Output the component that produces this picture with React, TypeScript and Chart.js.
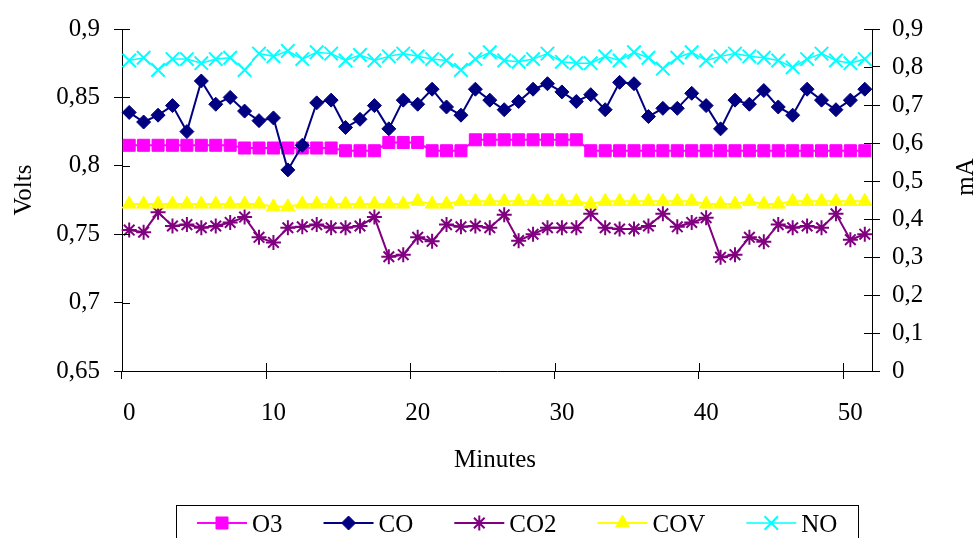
import React, { useEffect, useRef } from 'react';
import { Chart, registerables } from 'chart.js';
import { drawPoint } from 'chart.js/helpers';

Chart.register(...registerables);

const minutes = [
  0, 1, 2, 3, 4, 5, 6, 7, 8, 9, 10, 11, 12, 13, 14, 15, 16, 17, 18, 19, 20, 21, 22, 23, 24, 25,
  26, 27, 28, 29, 30, 31, 32, 33, 34, 35, 36, 37, 38, 39, 40, 41, 42, 43, 44, 45, 46, 47, 48, 49, 50, 51,
];

const o3 = [
  0.815, 0.815, 0.815, 0.815, 0.815, 0.815, 0.815, 0.815,
  0.813, 0.813, 0.813, 0.813, 0.813, 0.813, 0.813,
  0.811, 0.811, 0.811,
  0.817, 0.817, 0.817,
  0.811, 0.811, 0.811,
  0.819, 0.819, 0.819, 0.819, 0.819, 0.819, 0.819, 0.819,
  0.811, 0.811, 0.811, 0.811, 0.811, 0.811, 0.811, 0.811, 0.811, 0.811,
  0.811, 0.811, 0.811, 0.811, 0.811, 0.811, 0.811, 0.811, 0.811, 0.811,
];

const co = [
  0.839, 0.832, 0.837, 0.844, 0.825, 0.862, 0.845, 0.85, 0.84, 0.833,
  0.835, 0.797, 0.815, 0.846, 0.848, 0.828, 0.834, 0.844, 0.827, 0.848,
  0.845, 0.856, 0.843, 0.837, 0.856, 0.848, 0.841, 0.847, 0.856, 0.86,
  0.854, 0.847, 0.852, 0.841, 0.861, 0.86, 0.836, 0.842, 0.842, 0.853,
  0.844, 0.827, 0.848, 0.845, 0.855, 0.843, 0.837, 0.856, 0.848, 0.841,
  0.848, 0.856,
];

const co2 = [
  0.753, 0.7515, 0.766, 0.756, 0.757, 0.7547, 0.756, 0.7586, 0.7625, 0.7477,
  0.744, 0.7547, 0.7554, 0.757, 0.7547, 0.7547, 0.756, 0.7625, 0.7335, 0.735,
  0.7477, 0.7448, 0.757, 0.7554, 0.756, 0.7547, 0.7642, 0.7453, 0.75, 0.7547,
  0.7547, 0.7547, 0.7649, 0.7547, 0.7538, 0.7538, 0.756, 0.7649, 0.7554, 0.7586,
  0.7621, 0.7331, 0.735, 0.7477, 0.7444, 0.757, 0.7547, 0.756, 0.7547, 0.7649,
  0.746, 0.75,
];

const cov = [
  0.772, 0.772, 0.772, 0.772, 0.772, 0.772, 0.772, 0.772, 0.772, 0.772,
  0.770, 0.770,
  0.772, 0.772, 0.772, 0.772, 0.772, 0.772, 0.772, 0.772,
  0.774, 0.772, 0.772,
  0.774, 0.774, 0.774, 0.774, 0.774, 0.774, 0.774, 0.774, 0.774,
  0.772,
  0.774, 0.774, 0.774, 0.774, 0.774, 0.774, 0.774,
  0.772, 0.772, 0.772, 0.774, 0.772, 0.772,
  0.774, 0.774, 0.774, 0.774, 0.774, 0.774,
];

const no = [
  0.877, 0.879, 0.87, 0.878, 0.878, 0.875, 0.878, 0.879, 0.87, 0.882,
  0.88, 0.884, 0.878, 0.883, 0.882, 0.877, 0.881, 0.877, 0.88, 0.882,
  0.88, 0.878, 0.877, 0.87, 0.878, 0.883, 0.877, 0.876, 0.878, 0.882,
  0.876, 0.875, 0.875, 0.88, 0.877, 0.883, 0.879, 0.871, 0.879, 0.883,
  0.877, 0.88, 0.882, 0.88, 0.879, 0.877, 0.872, 0.878, 0.882, 0.877,
  0.875, 0.878,
];

const seriesNames = ['O3', 'CO', 'CO2', 'COV', 'NO'];
const xTitle = 'Minutes';
const yLeftTitle = 'Volts';
const yRightTitle = 'mA';

const FONT_FAMILY = '"Liberation Serif", "Times New Roman", serif';
const FONT_SIZE = 25;

const fmt = (v: number | string) =>
  String(Math.round(Number(v) * 100) / 100).replace('.', ',');

const overlayPlugin = {
  id: 'overlay',
  afterDraw(chart: any) {
    const { ctx, chartArea: a, scales } = chart;
    const yl = scales.y;
    const yr = scales.y1;
    const xs = scales.x;
    ctx.save();
    // inner half of crossing tick marks
    ctx.strokeStyle = '#000';
    ctx.lineWidth = 1;
    ctx.beginPath();
    yl.ticks.forEach((_t: any, i: number) => {
      const p = Math.round(yl.getPixelForTick(i)) + 0.5;
      ctx.moveTo(a.left, p);
      ctx.lineTo(a.left + 8, p);
    });
    yr.ticks.forEach((_t: any, i: number) => {
      const p = Math.round(yr.getPixelForTick(i)) + 0.5;
      ctx.moveTo(a.right - 8, p);
      ctx.lineTo(a.right, p);
    });
    const half = (xs.getPixelForValue(1) - xs.getPixelForValue(0)) / 2;
    const labels = chart.data.labels as number[];
    labels.forEach((lab, i) => {
      if (lab % 10 === 0) {
        const p = Math.round(xs.getPixelForValue(i) - half) + 0.5;
        ctx.moveTo(p, a.bottom - 8);
        ctx.lineTo(p, a.bottom);
      }
    });
    ctx.stroke();

    // axis titles
    ctx.fillStyle = '#000';
    ctx.font = `${FONT_SIZE}px ${FONT_FAMILY}`;
    ctx.textAlign = 'center';
    ctx.textBaseline = 'alphabetic';
    ctx.fillText(xTitle, 495, 467);

    ctx.save();
    ctx.translate(31, 190);
    ctx.rotate(-Math.PI / 2);
    ctx.fillText(yLeftTitle, 0, 0);
    ctx.restore();

    ctx.save();
    ctx.translate(973, 177);
    ctx.rotate(-Math.PI / 2);
    ctx.fillText(yRightTitle, 0, 0);
    ctx.restore();

    // legend
    ctx.strokeStyle = '#000';
    ctx.lineWidth = 1;
    ctx.strokeRect(176.5, 505.5, 682, 40);
    let x = 197;
    const ly = 523;
    ctx.textAlign = 'left';
    chart.data.datasets.forEach((ds: any) => {
      ctx.strokeStyle = ds.borderColor;
      ctx.lineWidth = ds.borderWidth;
      ctx.beginPath();
      ctx.moveTo(x, ly);
      ctx.lineTo(x + 50, ly);
      ctx.stroke();
      ctx.fillStyle = ds.pointBackgroundColor || ds.backgroundColor;
      ctx.strokeStyle = ds.borderColor;
      ctx.lineWidth = ds.pointBorderWidth;
      drawPoint(ctx, { pointStyle: ds.pointStyle, radius: ds.pointRadius, rotation: 0, borderWidth: ds.pointBorderWidth } as any, x + 25, ly);
      ctx.fillStyle = '#000';
      ctx.fillText(ds.label, x + 55, 532);
      const w = ctx.measureText(ds.label).width;
      x += 55 + w + 41;
    });
    ctx.restore();
  },
};

export default function App() {
  const ref = useRef<HTMLCanvasElement>(null);
  useEffect(() => {
    document.body.style.margin = '0';
    const font = { family: FONT_FAMILY, size: FONT_SIZE };
    const chart = new Chart(ref.current as HTMLCanvasElement, {
      type: 'line',
      data: {
        labels: minutes,
        datasets: [
          {
            label: seriesNames[0], data: o3, yAxisID: 'y', order: 5,
            borderColor: '#FF00FF', backgroundColor: '#FF00FF', pointBackgroundColor: '#FF00FF',
            borderWidth: 2, pointStyle: 'rect', pointRadius: 8.5, pointBorderWidth: 1,
          },
          {
            label: seriesNames[1], data: co, yAxisID: 'y', order: 4,
            borderColor: '#000080', backgroundColor: '#000080', pointBackgroundColor: '#000080',
            borderWidth: 2, pointStyle: 'rectRot', pointRadius: 7, pointBorderWidth: 1,
          },
          {
            label: seriesNames[2], data: co2, yAxisID: 'y', order: 3,
            borderColor: '#800080', backgroundColor: '#800080', pointBackgroundColor: '#800080',
            borderWidth: 2, pointStyle: 'star', pointRadius: 7.5, pointBorderWidth: 2,
          },
          {
            label: seriesNames[3], data: cov, yAxisID: 'y', order: 2,
            borderColor: '#FFFF00', backgroundColor: '#FFFF00', pointBackgroundColor: '#FFFF00',
            borderWidth: 2, pointStyle: 'triangle', pointRadius: 8, pointBorderWidth: 1,
          },
          {
            label: seriesNames[4], data: no, yAxisID: 'y', order: 1,
            borderColor: '#00FFFF', backgroundColor: '#00FFFF', pointBackgroundColor: '#00FFFF',
            borderWidth: 1.5, pointStyle: 'crossRot', pointRadius: 9.5, pointBorderWidth: 2,
          },
        ] as any,
      },
      options: {
        responsive: false,
        animation: false,
        devicePixelRatio: 1,
        layout: { autoPadding: false, padding: { top: 17, left: 0, right: 0, bottom: 0 } },
        plugins: { legend: { display: false }, tooltip: { enabled: false } },
        elements: { line: { tension: 0 } },
        scales: {
          x: {
            type: 'category',
            offset: true,
            grid: {
              offset: true,
              drawOnChartArea: false,
              tickLength: 8,
              color: (c: any) => (c.index % 10 === 0 && c.index <= 50 ? '#000' : 'rgba(0,0,0,0)'),
            },
            border: { color: '#000', width: 1 },
            ticks: {
              autoSkip: false,
              maxRotation: 0,
              minRotation: 0,
              padding: 19,
              color: '#000',
              font,
              callback: (_v: any, i: number) => (minutes[i] % 10 === 0 ? String(minutes[i]) : ''),
            },
            afterFit: (s: any) => { s.height = 167; },
          },
          y: {
            type: 'linear',
            position: 'left',
            min: 0.65,
            max: 0.9,
            grid: { drawOnChartArea: false, tickLength: 8, color: '#000' },
            border: { color: '#000', width: 1 },
            ticks: { stepSize: 0.05, padding: 14, color: '#000', font, callback: (v: any) => fmt(v) },
            afterFit: (s: any) => { s.width = 122; },
          },
          y1: {
            type: 'linear',
            position: 'right',
            min: 0,
            max: 0.9,
            grid: { drawOnChartArea: false, tickLength: 8, color: '#000' },
            border: { color: '#000', width: 1 },
            ticks: { stepSize: 0.1, padding: 12, color: '#000', font, callback: (v: any) => fmt(v) },
            afterFit: (s: any) => { s.width = 103; },
          },
        },
      } as any,
      plugins: [overlayPlugin],
    });
    return () => chart.destroy();
  }, []);
  return (
    <div style={{ width: 975, height: 538, background: '#fff', overflow: 'hidden' }}>
      <canvas ref={ref} width={975} height={538} style={{ display: 'block', width: 975, height: 538 }} />
    </div>
  );
}
